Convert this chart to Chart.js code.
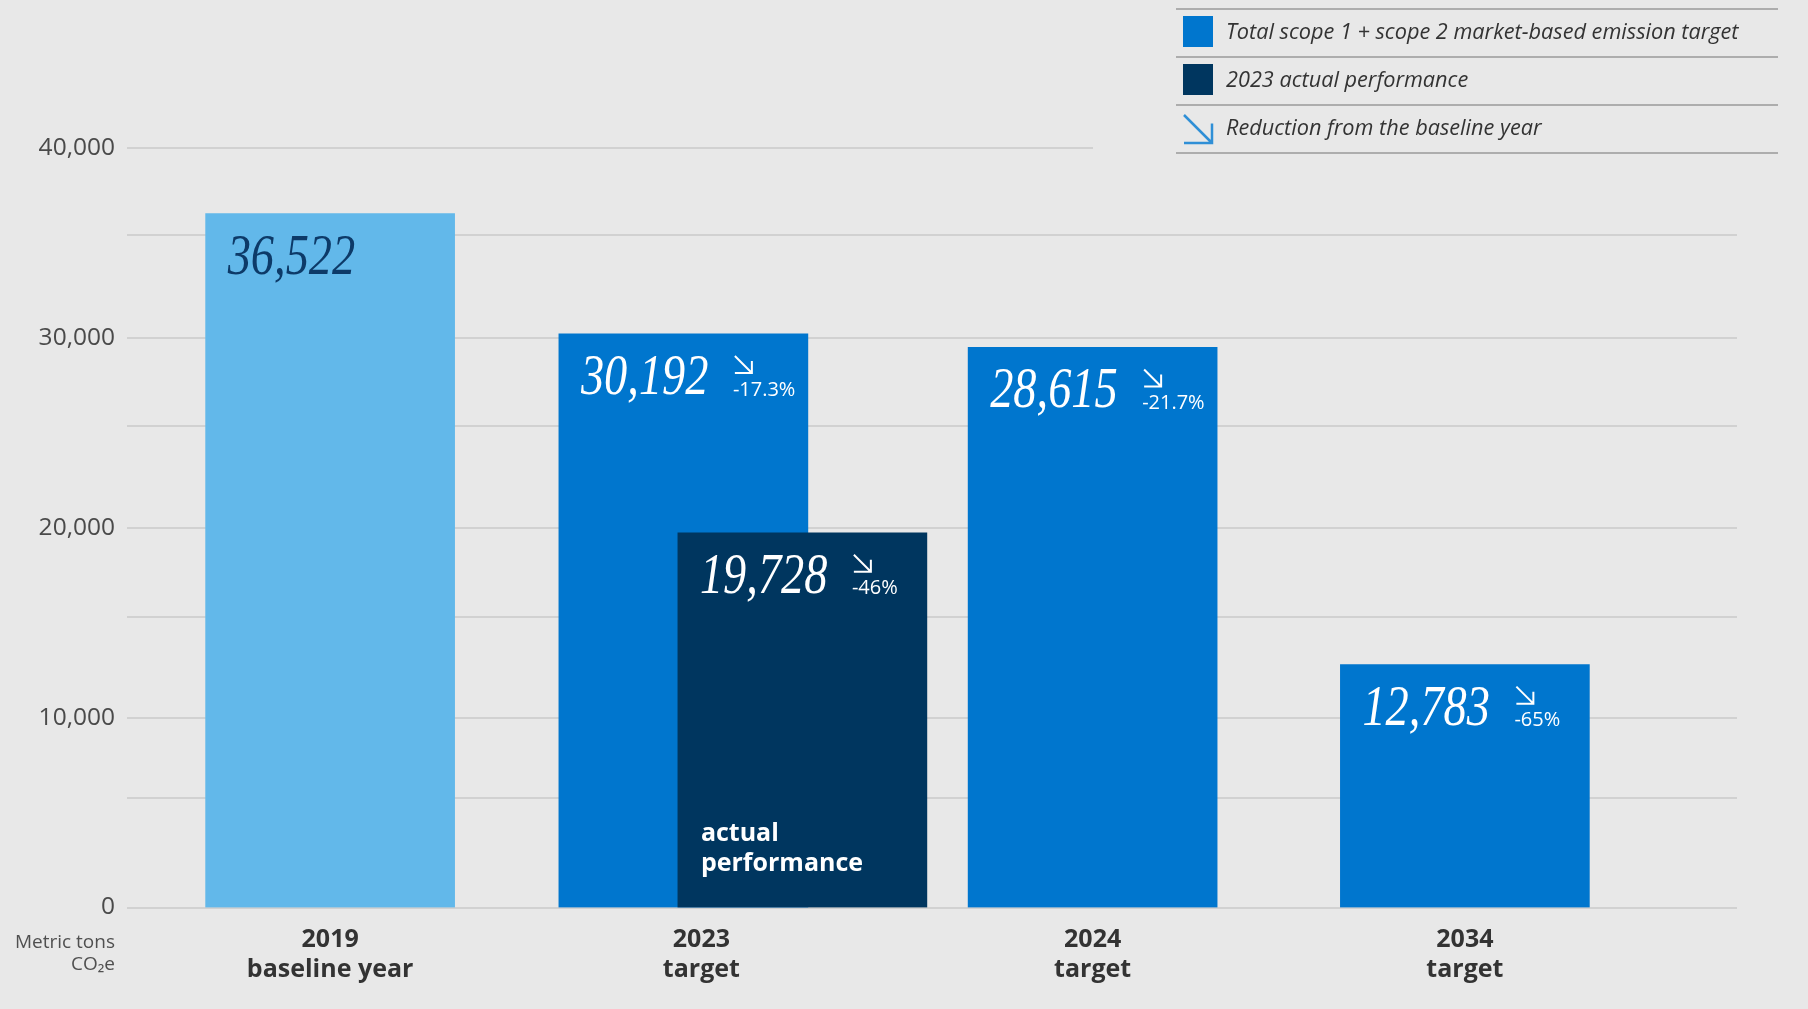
<!DOCTYPE html>
<html>
<head>
<meta charset="utf-8">
<script src="https://cdn.jsdelivr.net/npm/chart.js@4.4.1/dist/chart.umd.min.js"></script>
<style>
  html, body { margin: 0; padding: 0; background: #e8e8e8; }
  #wrap { position: relative; width: 1808px; height: 1009px; }
</style>
</head>
<body>
<div id="wrap"><canvas id="chart"></canvas></div>
<script>
// Chart data
const categories = [['2019', 'baseline year'], ['2023', 'target'], ['2024', 'target'], ['2034', 'target']];
// bar heights as drawn in the picture (the 2024 bar is drawn a bit taller than its label)
const targetValues = [36522, 30192, 29480, 12783];
const actualValues = [null, 19728, null, null];
// printed labels
const targetLabels = ['36,522', '30,192', '28,615', '12,783'];
const actualLabels = [null, '19,728', null, null];
const targetReductions = [null, '-17.3%', '-21.7%', '-65%'];
const actualReductions = [null, '-46%', null, null];
const yTickValues = [0, 10000, 20000, 30000, 40000];
const minorGridValues = [5780, 15300, 25350, 35400];
const legendLabels = [
  'Total scope 1 + scope 2 market-based emission target',
  '2023 actual performance',
  'Reduction from the baseline year'
];
const unitLines = ['Metric tons', 'CO\u2082e'];

// Colours
const baselineColor = '#62b8ea';
const targetColor = '#0076ce';
const actualColor = '#00365f';
const arrowColor = '#2f8fd6';
const gridColor = '#d1d1d1';

const fmt = v => v.toLocaleString('en-US');

// bar offsets from the category centre (px)
const targetShift = [0, -25, 6, 0];
const actualShift = [0, 94, 0, 0];
// x label nudges (px)
const labelShift = [0, -7, 6, 0];

const shiftBars = {
  id: 'shiftBars',
  afterDatasetsUpdate(chart) {
    chart.data.datasets.forEach((ds, di) => {
      const meta = chart.getDatasetMeta(di);
      const shift = ds.shift || [];
      meta.data.forEach((bar, i) => { bar.x += shift[i] || 0; });
    });
  },
  afterUpdate(chart) {
    const items = chart.scales.x.getLabelItems(chart.chartArea);
    items.forEach((it, i) => { it.options.translation[0] += labelShift[i] || 0; });
  }
};

const gridLines = {
  id: 'gridLines',
  beforeDatasetsDraw(chart) {
    const { ctx, chartArea, scales } = chart;
    const left = chartArea.left - 14;
    const right = chartArea.right + 83;
    ctx.save();
    ctx.strokeStyle = gridColor;
    ctx.lineWidth = 2;
    yTickValues.concat(minorGridValues).forEach(v => {
      const y = Math.round(scales.y.getPixelForValue(v));
      const end = v === scales.y.max ? 1093 : right;
      ctx.beginPath();
      ctx.moveTo(left, y);
      ctx.lineTo(end, y);
      ctx.stroke();
    });
    ctx.restore();
  }
};

function drawArrow(ctx, x, y, s, color, w) {
  ctx.save();
  ctx.strokeStyle = color;
  ctx.lineWidth = w;
  ctx.beginPath();
  ctx.moveTo(x, y);
  ctx.lineTo(x + s, y + s);
  ctx.moveTo(x, y + s);
  ctx.lineTo(x + s, y + s);
  ctx.lineTo(x + s, y + s * 0.3);
  ctx.stroke();
  ctx.restore();
}

const barLabels = {
  id: 'barLabels',
  afterDatasetsDraw(chart) {
    const { ctx } = chart;
    chart.data.datasets.forEach((ds, di) => {
      const meta = chart.getDatasetMeta(di);
      meta.data.forEach((bar, i) => {
        const txt = ds.valueLabels[i];
        if (txt == null) return;
        const left = bar.x - bar.width / 2;
        const top = bar.y;
        const color = (di === 1 && i === 0) ? '#0d3a68' : '#ffffff';
        ctx.save();
        ctx.translate(left + 22, top + 60);
        ctx.scale(0.8, 1);
        ctx.font = 'italic 58px "Liberation Serif"';
        ctx.fillStyle = color;
        ctx.textBaseline = 'alphabetic';
        ctx.fillText(txt, 0, 0);
        ctx.restore();
        const pct = ds.reductions[i];
        if (pct) {
          drawArrow(ctx, left + 176, top + 22, 17, '#ffffff', 2);
          ctx.save();
          ctx.font = '20px "Open Sans"';
          ctx.fillStyle = '#ffffff';
          ctx.textBaseline = 'middle';
          ctx.fillText(pct, left + 174, top + 56);
          ctx.restore();
        }
        if (ds.inBarText) {
          ctx.save();
          ctx.font = 'bold 25px "Open Sans"';
          ctx.fillStyle = '#ffffff';
          ctx.textBaseline = 'middle';
          ds.inBarText.forEach((t, k) => {
            ctx.fillText(t, left + 23, bar.base - 74 + k * 30);
          });
          ctx.restore();
        }
      });
    });
  }
};

const extras = {
  id: 'extras',
  afterDraw(chart) {
    const { ctx } = chart;
    // unit label
    ctx.save();
    ctx.font = '19px "Open Sans"';
    ctx.fillStyle = '#505050';
    ctx.textAlign = 'right';
    ctx.textBaseline = 'middle';
    unitLines.forEach((t, k) => ctx.fillText(t, 115, 943 + k * 22));
    ctx.restore();

    // legend
    const lx = 1176, lr = 1778, ly = 9, rowH = 48;
    ctx.save();
    ctx.strokeStyle = '#9a9a9a';
    ctx.lineWidth = 1.5;
    for (let k = 0; k <= legendLabels.length; k++) {
      const y = ly + k * rowH;
      ctx.beginPath();
      ctx.moveTo(lx, y);
      ctx.lineTo(lr, y);
      ctx.stroke();
    }
    const swatches = [targetColor, actualColor, null];
    legendLabels.forEach((t, k) => {
      const top = ly + k * rowH;
      if (swatches[k]) {
        ctx.fillStyle = swatches[k];
        ctx.fillRect(lx + 7, top + 7, 30, 31);
      } else {
        drawArrow(ctx, lx + 8, top + 10, 28, arrowColor, 2.5);
      }
      ctx.font = 'italic 21.7px "Open Sans"';
      ctx.fillStyle = '#333333';
      ctx.textBaseline = 'middle';
      ctx.fillText(t, lx + 50, top + 24);
    });
    ctx.restore();
  }
};

const chart = new Chart(document.getElementById('chart').getContext('2d'), {
  type: 'bar',
  data: {
    labels: categories,
    datasets: [
      {
        label: legendLabels[1],
        data: actualValues,
        valueLabels: actualLabels,
        backgroundColor: actualColor,
        reductions: actualReductions,
        inBarText: ['actual', 'performance'],
        shift: actualShift,
        order: 0
      },
      {
        label: legendLabels[0],
        data: targetValues,
        valueLabels: targetLabels,
        backgroundColor: [baselineColor, targetColor, targetColor, targetColor],
        reductions: targetReductions,
        shift: targetShift,
        order: 1
      }
    ]
  },
  options: {
    responsive: true,
    maintainAspectRatio: false,
    animation: false,
    events: [],
    layout: { padding: { left: 0, top: 147.6, right: 154, bottom: 0 } },
    datasets: { bar: { barThickness: 249, grouped: false, borderWidth: 0 } },
    plugins: { legend: { display: false }, tooltip: { enabled: false } },
    scales: {
      x: {
        type: 'category',
        offset: true,
        grid: { display: false, drawTicks: false },
        border: { display: false },
        ticks: {
          color: '#333333',
          font: { family: 'Open Sans', size: 25, weight: 'bold', lineHeight: 1.18 },
          padding: 18,
          maxRotation: 0
        },
        afterFit(scale) { scale.height = 101.5; }
      },
      y: {
        min: 0,
        max: 40000,
        grid: { display: false, drawTicks: false },
        border: { display: false },
        afterBuildTicks(scale) { scale.ticks = yTickValues.map(v => ({ value: v })); },
        ticks: {
          color: '#4a4a4a',
          font: { family: 'Open Sans', size: 24.5 },
          padding: 26,
          callback: v => fmt(v)
        },
        afterFit(scale) { scale.width = 141; }
      }
    }
  },
  plugins: [shiftBars, gridLines, barLabels, extras]
});
</script>
</body>
</html>
